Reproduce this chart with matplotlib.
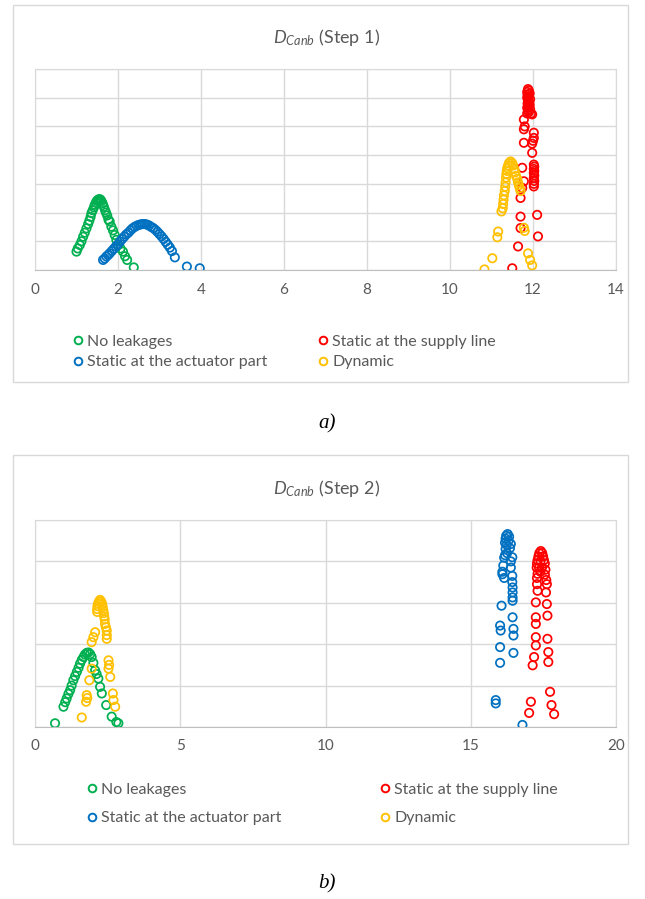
import matplotlib
matplotlib.use('Agg')
import matplotlib.pyplot as plt
from matplotlib.patches import Rectangle
from matplotlib.lines import Line2D

plt.rcParams['font.family'] = ['Lato', 'DejaVu Sans']
plt.rcParams['mathtext.fontset'] = 'custom'
plt.rcParams['mathtext.rm'] = 'Lato'
plt.rcParams['mathtext.it'] = 'Lato:italic'

# series names and colours (Excel palette)
series_names = ['No leakages', 'Static at the actuator part', 'Static at the supply line', 'Dynamic']
series_colors = ['#00B050', '#0070C0', '#FF0000', '#FFC000']

# ---- Step 1 ----
s1_green_x = [1.00, 1.03, 1.08, 1.12, 1.16, 1.20, 1.24, 1.28, 1.31, 1.34, 1.36, 1.39, 1.42, 1.44, 1.47,
              1.49, 1.52, 1.55, 1.58, 1.60, 1.63, 1.66, 1.69, 1.71, 1.74, 1.77, 1.80, 1.84, 1.88, 1.92,
              1.96, 2.00, 2.06, 2.12, 2.17, 2.22, 2.38]
s1_green_y = [0.64, 0.75, 0.87, 1.00, 1.16, 1.30, 1.45, 1.60, 1.72, 1.85, 1.98, 2.08, 2.18, 2.27, 2.35,
              2.41, 2.45, 2.47, 2.45, 2.40, 2.32, 2.20, 2.08, 2.00, 1.90, 1.75, 1.69, 1.51, 1.38, 1.22,
              1.05, 0.87, 0.75, 0.64, 0.48, 0.35, 0.09]

s1_blue_x = [1.64, 1.68, 1.72, 1.76, 1.80, 1.85, 1.90, 1.95, 2.00, 2.05, 2.10, 2.15, 2.20, 2.25, 2.30,
             2.35, 2.40, 2.45, 2.50, 2.55, 2.60, 2.65, 2.70, 2.75, 2.80, 2.85, 2.90, 2.95, 3.00, 3.05,
             3.10, 3.15, 3.20, 3.25, 3.30, 3.37, 3.66, 3.97]
s1_blue_y = [0.35, 0.40, 0.47, 0.52, 0.58, 0.66, 0.74, 0.82, 0.90, 0.99, 1.08, 1.16, 1.24, 1.30, 1.38,
             1.45, 1.50, 1.54, 1.57, 1.59, 1.60, 1.60, 1.58, 1.55, 1.50, 1.46, 1.40, 1.33, 1.25, 1.17,
             1.08, 0.98, 0.88, 0.78, 0.66, 0.44, 0.12, 0.06]

s1_red_x = [11.88, 11.90, 11.86, 11.92, 11.87, 11.90, 11.86, 11.93, 11.88, 11.91, 11.87, 11.92, 11.89,
            11.86, 11.93, 11.88, 11.90, 11.86, 11.95, 11.98, 11.78, 11.78, 11.80, 12.02, 12.02, 12.00,
            11.78, 11.98, 11.98, 12.02, 12.03, 12.02, 12.03, 12.02, 12.03, 12.02, 12.03, 12.02, 12.02,
            11.74, 11.78, 11.74, 11.70, 12.10, 11.70, 11.70, 12.12, 11.64, 11.50]
s1_red_y = [6.30, 6.25, 6.20, 6.15, 6.10, 6.05, 6.00, 5.95, 5.90, 5.85, 5.80, 5.75, 5.70,
            5.65, 5.60, 5.55, 5.50, 5.45, 5.45, 5.42, 5.24, 4.90, 5.00, 4.78, 4.60, 4.50,
            4.43, 4.40, 4.08, 3.67, 3.60, 3.52, 3.45, 3.38, 3.30, 3.20, 3.10, 3.00, 2.91,
            3.56, 3.09, 2.86, 2.51, 1.92, 1.86, 1.46, 1.17, 0.82, 0.06]

s1_yellow_x = [11.46, 11.42, 11.50, 11.40, 11.52, 11.38, 11.55, 11.37, 11.57, 11.36, 11.59, 11.35, 11.62,
               11.34, 11.64, 11.33, 11.66, 11.32, 11.68, 11.30, 11.70, 11.29, 11.28, 11.27, 11.24,
               11.78, 11.80, 11.16, 11.14, 11.02, 10.83, 11.88, 11.93, 11.98]
s1_yellow_y = [3.78, 3.72, 3.72, 3.64, 3.64, 3.55, 3.52, 3.45, 3.40, 3.35, 3.28, 3.22, 3.18,
               3.05, 3.05, 2.90, 2.95, 2.75, 2.85, 2.60, 2.75, 2.45, 2.30, 2.15, 2.04,
               1.47, 1.36, 1.34, 1.14, 0.41, 0.02, 0.58, 0.35, 0.16]

# ---- Step 2 ----
s2_green_x = [0.69, 0.98, 1.04, 1.09, 1.15, 1.21, 1.26, 1.32, 1.38, 1.44, 1.50, 1.55, 1.61, 1.67, 1.72,
              1.78, 1.84, 1.90, 1.95, 2.01, 2.07, 2.12, 2.18, 2.24, 2.30, 2.45, 2.64, 2.87, 2.80]
s2_green_y = [0.09, 0.49, 0.60, 0.69, 0.80, 0.89, 1.00, 1.13, 1.23, 1.33, 1.43, 1.53, 1.62, 1.69, 1.75,
              1.79, 1.80, 1.76, 1.69, 1.55, 1.37, 1.28, 1.17, 0.97, 0.81, 0.53, 0.25, 0.09, 0.12]

s2_blue_x = [16.27, 16.22, 16.32, 16.20, 16.30, 16.18, 16.38, 16.24, 16.20, 16.35, 16.25, 16.18, 16.43,
             16.15, 16.38, 16.12, 16.38, 16.09, 16.09, 16.15, 16.43, 16.43, 16.44, 16.44, 16.44, 16.44,
             16.06, 16.44, 16.01, 16.03, 16.47, 16.47, 16.01, 16.47, 16.01, 15.86, 15.86, 16.78]
s2_blue_y = [4.66, 4.62, 4.60, 4.55, 4.50, 4.45, 4.42, 4.40, 4.30, 4.32, 4.20, 4.15, 4.10,
             4.09, 4.00, 3.90, 3.85, 3.75, 3.69, 3.60, 3.65, 3.50, 3.37, 3.25, 3.13, 3.05,
             2.93, 2.65, 2.45, 2.33, 2.37, 2.21, 1.93, 1.79, 1.55, 0.65, 0.57, 0.05]

s2_red_x = [17.41, 17.36, 17.46, 17.33, 17.49, 17.30, 17.52, 17.28, 17.55, 17.40, 17.35, 17.45, 17.27,
            17.57, 17.30, 17.55, 17.40, 17.28, 17.60, 17.62, 17.28, 17.30, 17.59, 17.24, 17.62, 17.24,
            17.64, 17.24, 17.24, 17.64, 17.24, 17.67, 17.18, 17.67, 17.13, 17.73, 17.07, 17.78, 17.01,
            17.87]
s2_red_y = [4.25, 4.20, 4.20, 4.12, 4.12, 4.03, 4.03, 3.95, 3.95, 4.00, 3.85, 3.85, 3.85,
            3.80, 3.70, 3.68, 3.75, 3.60, 3.55, 3.45, 3.45, 3.29, 3.25, 3.01, 2.97, 2.65,
            2.69, 2.49, 2.17, 2.13, 1.97, 1.81, 1.69, 1.57, 1.49, 0.85, 0.61, 0.53, 0.34,
            0.31]

s2_yellow_x = [2.24, 2.20, 2.28, 2.17, 2.31, 2.15, 2.33, 2.14, 2.35, 2.14, 2.37, 2.38, 2.40, 2.41, 2.44,
               2.47, 2.47, 2.47, 2.07, 2.01, 1.95, 2.53, 2.55, 2.53, 2.59, 1.95, 1.87, 1.78, 1.80,
               1.76, 2.68, 2.70, 2.76, 1.61]
s2_yellow_y = [3.07, 3.03, 3.03, 2.98, 2.97, 2.92, 2.90, 2.85, 2.82, 2.78, 2.75, 2.67, 2.60, 2.49, 2.41,
               2.33, 2.22, 2.13, 2.29, 2.17, 2.05, 1.61, 1.50, 1.41, 1.21, 1.41, 1.13, 0.77, 0.70,
               0.61, 0.81, 0.65, 0.49, 0.23]

step1_xticks = [0, 2, 4, 6, 8, 10, 12, 14]
step2_xticks = [0, 5, 10, 15, 20]

W, H = 645, 899
GRID = '#D9D9D9'
TEXT = '#595959'
LEG_FS = 11.5


def fx(px):
    return px / W


def fy(py):
    return 1 - py / H


def draw_panel(fig, box, area, title, title_y, xticks, n_rows, data, legend_rows, legend_cols, caption_y, caption):
    # outer chart frame
    fig.add_artist(Rectangle((fx(box[0]), fy(box[3])), fx(box[2]) - fx(box[0]), fy(box[1]) - fy(box[3]),
                             transform=fig.transFigure, fill=False, ec=GRID, lw=1))
    ax = fig.add_axes([fx(area[0]), fy(area[3]), fx(area[2]) - fx(area[0]), fy(area[1]) - fy(area[3])])
    for (x, y), c, name in zip(data, series_colors, series_names):
        ax.scatter(x, y, s=36, facecolors='none', edgecolors=c, linewidths=1.25, label=name, zorder=3)
    ax.set_xlim(xticks[0], xticks[-1])
    ax.set_ylim(0, n_rows)
    ax.set_xticks(xticks)
    ax.set_yticks(range(n_rows + 1))
    ax.set_yticklabels([])
    ax.grid(True, color=GRID, lw=1)
    ax.set_axisbelow(True)
    for sp in ax.spines.values():
        sp.set_color(GRID)
    ax.spines['bottom'].set_color('#BFBFBF')
    ax.tick_params(length=0, labelsize=11, labelcolor=TEXT, pad=9)

    fig.text(fx(327), fy(title_y), title, ha='center', va='center', fontsize=13, color=TEXT)

    # legend in two columns
    handles = [Line2D([], [], ls='none', marker='o', ms=5.5, mfc='none', mec=c, mew=1.4) for c in series_colors]
    col_items = [[0, 1], [2, 3]]
    mid_y = (legend_rows[0] + legend_rows[1]) / 2
    fs_px = LEG_FS * 100 / 72
    spacing = (legend_rows[1] - legend_rows[0] - 0.86 * fs_px) / fs_px
    legs = []
    for items, cx in zip(col_items, legend_cols):
        leg = ax.legend([handles[i] for i in items], [series_names[i] for i in items],
                        loc='center left', bbox_to_anchor=(fx(cx - 5), fy(mid_y)),
                        bbox_transform=fig.transFigure, frameon=False, borderpad=0, borderaxespad=0,
                        handlelength=0.6, handletextpad=0.3, labelspacing=spacing, fontsize=LEG_FS,
                        labelcolor=TEXT)
        legs.append(leg)
    ax.add_artist(legs[0])

    fig.text(fx(327), fy(caption_y), caption, ha='center', va='center', fontsize=15,
             family='Liberation Serif', style='italic', color='black')
    return ax


def main():
    fig = plt.figure(figsize=(W / 100, H / 100), dpi=100)
    draw_panel(fig, (13, 5, 628, 382), (35, 69, 616, 270), r'$D_{Canb}$ (Step 1)', 37, step1_xticks, 7,
               [(s1_green_x, s1_green_y), (s1_blue_x, s1_blue_y), (s1_red_x, s1_red_y),
                (s1_yellow_x, s1_yellow_y)],
               (342, 362), (78, 323), 424, 'a)')
    draw_panel(fig, (13, 455, 628, 844), (35, 520, 616, 727), r'$D_{Canb}$ (Step 2)', 488, step2_xticks, 5,
               [(s2_green_x, s2_green_y), (s2_blue_x, s2_blue_y), (s2_red_x, s2_red_y),
                (s2_yellow_x, s2_yellow_y)],
               (790, 818), (92, 385), 884, 'b)')
    fig.savefig('out.png', dpi=100)


if __name__ == '__main__':
    main()
